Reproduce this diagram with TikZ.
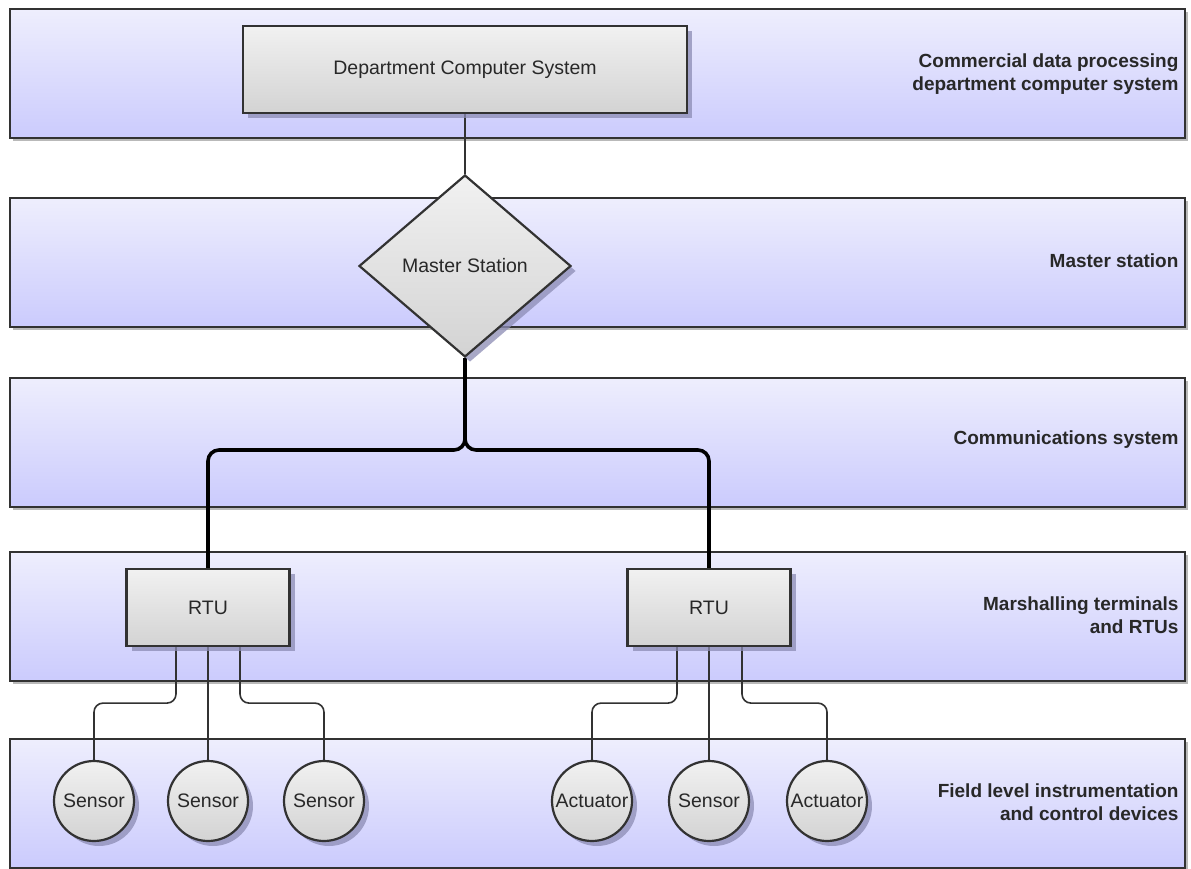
\documentclass[tikz,border=0pt]{standalone}
\usepackage{fontspec}
\setmainfont{Liberation Sans}
\usetikzlibrary{shapes.geometric,shadows,calc}

\definecolor{bandtop}{RGB}{238,238,253}
\definecolor{bandbot}{RGB}{203,203,253}
\definecolor{boxtop}{RGB}{241,241,241}
\definecolor{boxbot}{RGB}{211,211,211}
\definecolor{edge}{RGB}{50,50,50}
\definecolor{shade}{RGB}{140,140,180}
\definecolor{ink}{RGB}{40,40,40}

\pgfdeclarelayer{bands}
\pgfdeclarelayer{wires}
\pgfsetlayers{bands,wires,main}

\tikzset{
  band/.style={draw=edge, line width=2pt, top color=bandtop, bottom color=bandbot,
    minimum width=1175pt, minimum height=129pt, inner sep=0pt,
    drop shadow={shadow xshift=3pt, shadow yshift=-3pt, fill=black!50, opacity=0.55}},
  unit/.style={draw=edge, line width=2.2pt, top color=boxtop, bottom color=boxbot,
    font=\fontsize{19.5}{23}\selectfont, text=ink, inner sep=0pt,
    drop shadow={shadow xshift=5pt, shadow yshift=-5pt, fill=shade, opacity=0.75}},
  box/.style={unit, rectangle},
  dev/.style={unit, circle, minimum size=80pt},
  hub/.style={unit, diamond, minimum width=212pt, minimum height=182pt},
  layerlabel/.style={anchor=east, align=right, font=\fontsize{19}{23}\selectfont\bfseries, text=ink},
  wire/.style={draw=edge, line width=1.6pt, rounded corners=9pt},
  bus/.style={draw=black, line width=3.6pt, rounded corners=11pt},
}

\begin{document}
\begin{tikzpicture}[x=1pt,y=-1pt]
\useasboundingbox (0,0) rectangle (1191,869);

% horizontal layers of the system
\begin{pgfonlayer}{bands}
  \fill[white] (0,0) rectangle (1191,869);
  \node[band] (band1) at (597.5,74)    {};
  \node[band] (band2) at (597.5,262.5) {};
  \node[band] (band3) at (597.5,442)   {};
  \node[band] (band4) at (597.5,616.5) {};
  \node[band] (band5) at (597.5,803)   {};
\end{pgfonlayer}

% layer titles
\node[layerlabel] (lab1) at (1182,74)    {Commercial data processing\\department computer system};
\node[layerlabel] (lab2) at (1182,261)   {Master station};
\node[layerlabel] (lab3) at (1182,440)   {Communications system};
\node[layerlabel] (lab4) at (1182,615)   {Marshalling terminals\\and RTUs};
\node[layerlabel] (lab5) at (1182,802.5) {Field level instrumentation\\and control devices};

% equipment
\node[box, minimum width=444pt, minimum height=87pt] (dcs) at (465,69.5) {Department Computer System};
\node[hub] (ms) at (465,266) {Master Station};
\node[box, minimum width=163pt, minimum height=77pt] (rtuL) at (208,607.5) {RTU};
\node[box, minimum width=163pt, minimum height=77pt] (rtuR) at (709,607.5) {RTU};

\node[dev] (s1) at (94,801)  {Sensor};
\node[dev] (s2) at (208,801) {Sensor};
\node[dev] (s3) at (324,801) {Sensor};
\node[dev] (a1) at (592,801) {Actuator};
\node[dev] (s4) at (709,801) {Sensor};
\node[dev] (a2) at (827,801) {Actuator};

\coordinate (junction) at (465,450);

% links
\begin{pgfonlayer}{wires}
  \draw[wire] (dcs.south) -- (ms.north);
  \draw[bus] (ms.south) -- (junction) -| (rtuL.north);
  \draw[bus] (ms.south) -- (junction) -| (rtuR.north);

  \draw[wire] ([xshift=-32pt]rtuL.south) -- ++(0,56) -| (s1.north);
  \draw[wire] (rtuL.south) -- (s2.north);
  \draw[wire] ([xshift=32pt]rtuL.south) -- ++(0,56) -| (s3.north);

  \draw[wire] ([xshift=-32pt]rtuR.south) -- ++(0,56) -| (a1.north);
  \draw[wire] (rtuR.south) -- (s4.north);
  \draw[wire] ([xshift=33pt]rtuR.south) -- ++(0,56) -| (a2.north);
\end{pgfonlayer}
\end{tikzpicture}
\end{document}
